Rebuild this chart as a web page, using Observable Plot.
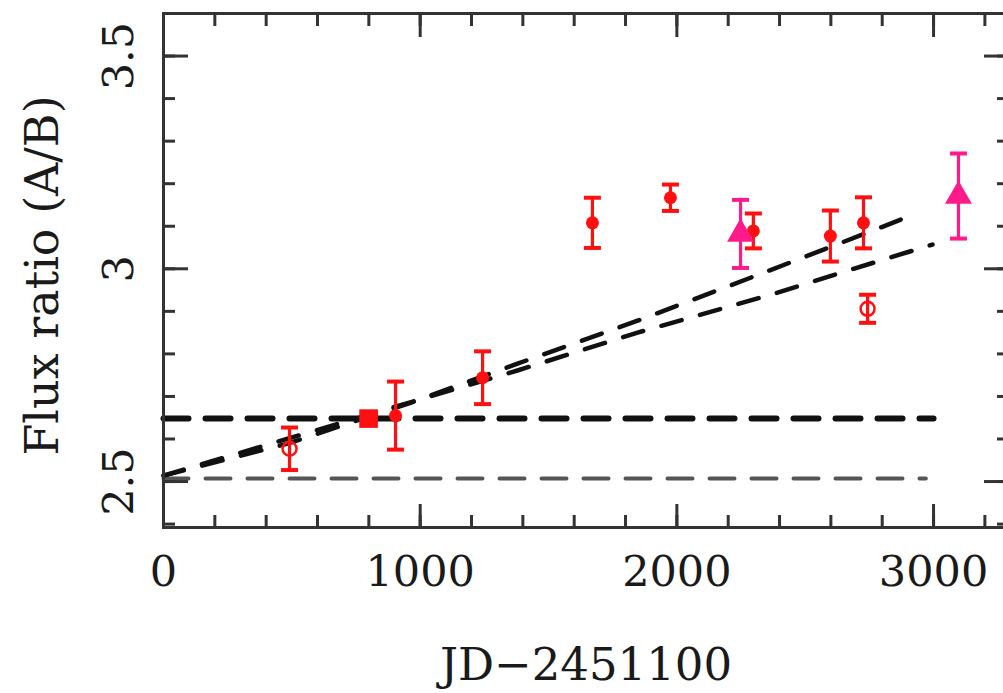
<!DOCTYPE html>
<html><head><meta charset="utf-8">
<script src="https://cdn.jsdelivr.net/npm/d3@7"></script>
<script src="https://cdn.jsdelivr.net/npm/@observablehq/plot@0.6"></script>
<style>body{margin:0;background:#fff;overflow:hidden}</style>
</head><body><div id="chart"></div>
<script>
// Filled red circles
const filledX = [904, 1243, 1671, 1975, 2298, 2598, 2727];
const filledY = [2.655, 2.744, 3.108, 3.167, 3.089, 3.077, 3.108];
const filledErr = [0.080, 0.062, 0.059, 0.031, 0.041, 0.060, 0.060];
// Large filled square
const squareX = [799];
const squareY = [2.648];
// Open red circles
const openX = [491, 2743];
const openY = [2.577, 2.906];
const openErr = [0.050, 0.033];
// Magenta triangles
const triX = [2248, 3097];
const triY = [3.082, 3.171];
const triErr = [0.080, 0.100];
// Dashed fit lines
const upperFitX = [0, 483, 962, 1379, 1847, 2287, 2743, 2937];
const upperFitY = [2.514, 2.589, 2.685, 2.777, 2.878, 2.979, 3.085, 3.131];
const lowerFitX = [0, 1379, 1847, 2376, 2688, 2996];
const lowerFitY = [2.514, 2.761, 2.850, 2.941, 3.000, 3.057];
// Horizontal dashed levels
const levelHighX = [0, 3000];
const levelHigh = 2.648;
const levelLowX = [0, 2970];
const levelLow = 2.507;
// Ticks and labels
const xMinorTicks = d3.range(0, 3300, 200);
const xMajorTicks = [0, 1000, 2000, 3000];
const xTickLabels = [0, 1000, 2000, 3000];
const yMinorTicks = d3.range(24, 36).map(d => d / 10);
const yMajorTicks = [2.5, 3, 3.5];
const yTickLabels = ["2.5", "3", "3.5"];
const xTitle = "JD\u22122451100";
const yTitle = "Flux ratio (A/B)";

const zip = (xs, ys, es) => xs.map((x, i) => ({x, y: ys[i], e: es ? es[i] : 0}));
const filled = zip(filledX, filledY, filledErr);
const square = zip(squareX, squareY);
const open = zip(openX, openY, openErr);
const tri = zip(triX, triY, triErr);
const upperFit = zip(upperFitX, upperFitY);
const lowerFit = zip(lowerFitX, lowerFitY);
const hiLine = levelHighX.map(x => ({x, y: levelHigh}));
const loLine = levelLowX.map(x => ({x, y: levelLow}));

const RED = "#ff1010", PINK = "#ff1a8c", AX = "#333", TXT = "#1a1a1a";
const cap = {draw(ctx, size) { const r = Math.sqrt(size / Math.PI); ctx.moveTo(-r, 0); ctx.lineTo(r, 0); }};

function errMarks(data, color) {
  return [
    Plot.ruleX(data, {x: "x", y1: d => d.y - d.e, y2: d => d.y + d.e, stroke: color, strokeWidth: 3.2}),
    Plot.dot(data, {x: "x", y: d => d.y + d.e, symbol: cap, r: 8.5, stroke: color, strokeWidth: 4}),
    Plot.dot(data, {x: "x", y: d => d.y - d.e, symbol: cap, r: 8.5, stroke: color, strokeWidth: 4})
  ];
}

const noText = () => "";
const chart = Plot.plot({
  width: 1003, height: 693,
  marginLeft: 163, marginRight: -5, marginTop: 13, marginBottom: 166,
  x: {domain: [0, 3292]},
  y: {domain: [2.392, 3.6]},
  style: {fontFamily: "'DejaVu Serif'", fontSize: "43px", background: "#fff", color: TXT},
  marks: [
    // dashed lines
    Plot.line(loLine, {x: "x", y: "y", stroke: "#555", strokeWidth: 4, strokeDasharray: "25,17"}),
    Plot.line(hiLine, {x: "x", y: "y", stroke: "#111", strokeWidth: 6, strokeDasharray: "25,17"}),
    Plot.line(lowerFit, {x: "x", y: "y", stroke: "#111", strokeWidth: 4.5, strokeDasharray: "21,19"}),
    Plot.line(upperFit, {x: "x", y: "y", stroke: "#111", strokeWidth: 4.5, strokeDasharray: "21,19"}),
    // error bars
    ...errMarks(filled, RED),
    ...errMarks(open, RED),
    ...errMarks(tri, PINK),
    // markers
    Plot.dot(filled, {x: "x", y: "y", r: 6.5, fill: RED}),
    Plot.dot(square, {x: "x", y: "y", r: 10.5, symbol: "square", fill: RED}),
    Plot.dot(open, {x: "x", y: "y", r: 7, stroke: RED, strokeWidth: 2.5, fill: "none"}),
    Plot.dot(tri, {x: "x", y: "y", r: 10, symbol: "triangle", fill: PINK}),
    // frame & ticks
    Plot.frame({stroke: AX, strokeWidth: 3}),
    Plot.axisX({anchor: "bottom", ticks: xMinorTicks, tickSize: -12, tickFormat: noText, label: null, stroke: AX, strokeWidth: 3}),
    Plot.axisX({anchor: "bottom", ticks: xMajorTicks, tickSize: -23, tickFormat: noText, label: null, stroke: AX, strokeWidth: 3}),
    Plot.axisX({anchor: "top", ticks: xMinorTicks, tickSize: -12, tickFormat: noText, label: null, stroke: AX, strokeWidth: 3}),
    Plot.axisX({anchor: "top", ticks: xMajorTicks, tickSize: -23, tickFormat: noText, label: null, stroke: AX, strokeWidth: 3}),
    Plot.axisY({anchor: "left", ticks: yMinorTicks, tickSize: -12, tickFormat: noText, label: null, stroke: AX, strokeWidth: 3}),
    Plot.axisY({anchor: "left", ticks: yMajorTicks, tickSize: -25, tickFormat: noText, label: null, stroke: AX, strokeWidth: 3}),
    Plot.axisY({anchor: "right", ticks: yMinorTicks, tickSize: -12, tickFormat: noText, label: null, stroke: AX, strokeWidth: 3}),
    Plot.axisY({anchor: "right", ticks: yMajorTicks, tickSize: -25, tickFormat: noText, label: null, stroke: AX, strokeWidth: 3}),
    // tick labels
    Plot.text(xTickLabels, {x: d => d, frameAnchor: "bottom", dy: 58, lineAnchor: "bottom", textAnchor: "middle", text: d => String(d), fill: TXT, letterSpacing: 2}),
    Plot.text(yMajorTicks, {y: d => d, frameAnchor: "left", dx: -31, rotate: -90, lineAnchor: "bottom", textAnchor: "middle", text: (d, i) => yTickLabels[i], fill: TXT, letterSpacing: 2}),
    // titles
    Plot.text([xTitle], {frameAnchor: "bottom", dy: 152, lineAnchor: "bottom", textAnchor: "middle", text: d => d, fill: TXT, fontSize: 45, letterSpacing: 3}),
    Plot.text([yTitle], {frameAnchor: "left", dx: -106, dy: 5, rotate: -90, lineAnchor: "bottom", textAnchor: "middle", text: d => d, fill: TXT, fontSize: 46, letterSpacing: 4})
  ]
});
document.getElementById("chart").appendChild(chart);
</script>
</body></html>
